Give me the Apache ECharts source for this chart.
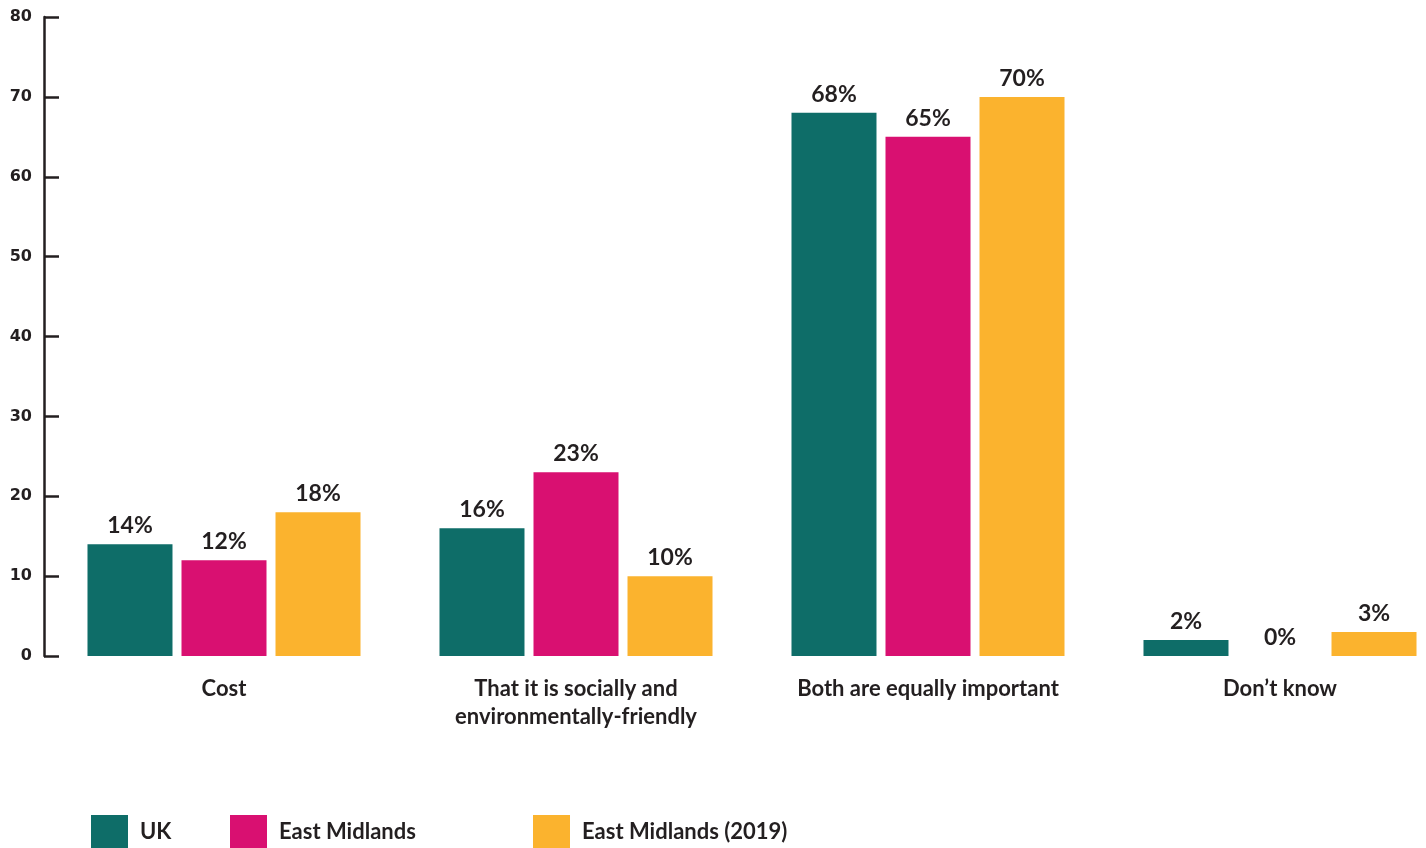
<!DOCTYPE html>
<html>
<head>
<meta charset="utf-8">
<script src="https://cdn.jsdelivr.net/npm/echarts@6/dist/echarts.min.js"></script>
<style>
  html, body { margin: 0; padding: 0; background: #fff; }
  #chart { width: 1426px; height: 848px; }
</style>
</head>
<body>
<div id="chart"></div>
<script>
// Answer categories
const categories = ['Cost', 'That it is socially and\nenvironmentally-friendly', 'Both are equally important', 'Don\u2019t know'];
// Percentages per group
const ukValues = [14, 16, 68, 2];
const eastMidlandsValues = [12, 23, 65, 0];
const eastMidlands2019Values = [18, 10, 70, 3];
const seriesNames = ['UK', 'East Midlands', 'East Midlands (2019)'];
const yTicks = { min: 0, max: 80, interval: 10 };

const colors = ['#0e6d68', '#d91071', '#fbb32e'];
const textColor = '#231f20';
const fontFamily = '"Lato", "Noto Sans", sans-serif';

const chart = echarts.init(document.getElementById('chart'));

function barSeries(name, data, color) {
  return {
    name: name,
    type: 'bar',
    data: data,
    barWidth: 85,
    barGap: '10.6%',
    itemStyle: { color: color },
    label: {
      show: true,
      position: 'top',
      distance: 7,
      formatter: '{c}%',
      color: textColor,
      fontFamily: fontFamily,
      fontSize: 23,
      fontWeight: 'bold'
    }
  };
}

function legendItem(name, left) {
  return {
    data: [name],
    left: left,
    top: 815,
    padding: 0,
    icon: 'rect',
    itemWidth: 37,
    itemHeight: 33,
    itemGap: 0,
    textStyle: { color: textColor, fontFamily: fontFamily, fontSize: 22, fontWeight: 'bold', padding: [8, 0, 0, 7] },
    selectedMode: false
  };
}

chart.setOption({
  animation: false,
  color: colors,
  // the last group runs past the right edge of the canvas
  grid: { left: 48, top: 17, width: 1408, bottom: 192, outerBoundsMode: 'none', containLabel: false },
  legend: [
    legendItem(seriesNames[0], 91),
    legendItem(seriesNames[1], 230),
    legendItem(seriesNames[2], 533)
  ],
  xAxis: {
    type: 'category',
    data: categories,
    axisLine: { show: false },
    axisTick: { show: false },
    axisLabel: {
      color: textColor,
      fontFamily: fontFamily,
      fontSize: 22,
      fontWeight: 'bold',
      margin: 19,
      lineHeight: 28
    }
  },
  yAxis: {
    type: 'value',
    min: yTicks.min,
    max: yTicks.max,
    interval: yTicks.interval,
    offset: 4,
    splitLine: { show: false },
    axisLine: { show: true, lineStyle: { color: textColor, width: 2.5 } },
    axisTick: { show: true, inside: true, length: 15, lineStyle: { color: textColor, width: 2.5 } },
    axisLabel: {
      color: textColor,
      fontFamily: '"DejaVu Sans", sans-serif',
      fontSize: 16,
      fontWeight: 'bold',
      margin: 12
    }
  },
  series: [
    barSeries(seriesNames[0], ukValues, colors[0]),
    barSeries(seriesNames[1], eastMidlandsValues, colors[1]),
    barSeries(seriesNames[2], eastMidlands2019Values, colors[2])
  ]
});
</script>
</body>
</html>
